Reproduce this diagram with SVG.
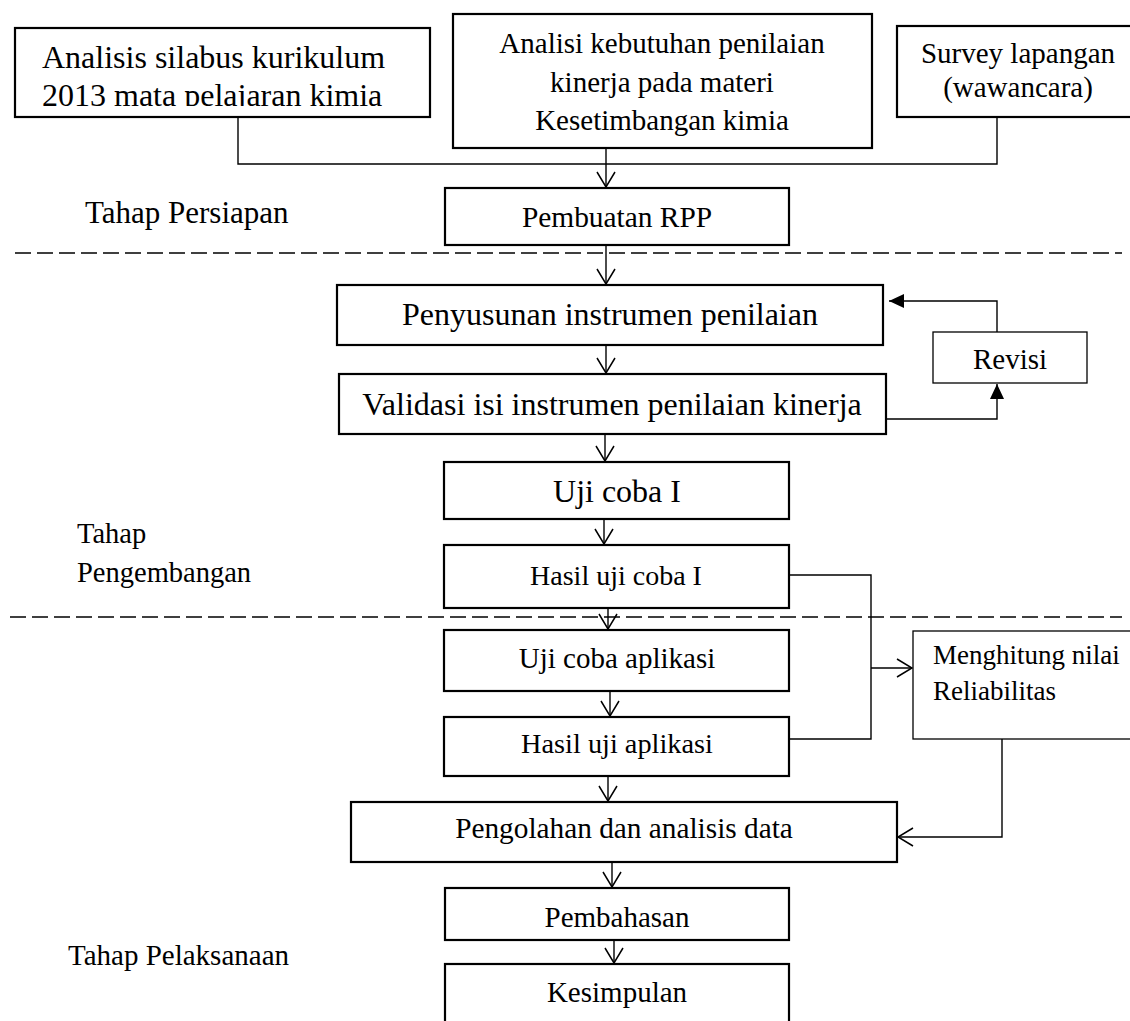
<svg xmlns="http://www.w3.org/2000/svg" width="1130" height="1021" viewBox="0 0 1130 1021">
<style>
text{font-family:"Liberation Serif","Times New Roman",serif;fill:#000;}
.b{fill:#fff;stroke:#000;stroke-width:2.2;}
.t{fill:#fff;stroke:#000;stroke-width:1.3;}
.c{fill:none;stroke:#000;stroke-width:1.4;}
.d{fill:none;stroke:#000;stroke-width:1.6;stroke-dasharray:16 6;}
.m{text-anchor:middle;}
</style>
<defs>
<marker id="open" viewBox="-1 -10 17 20" refX="15" refY="0" markerWidth="17" markerHeight="20" markerUnits="userSpaceOnUse" orient="auto">
<path d="M0,-9 L15,0 L0,9" fill="none" stroke="#000" stroke-width="1.5"/>
</marker>
<marker id="fill" viewBox="0 -8 15 16" refX="15" refY="0" markerWidth="15" markerHeight="16" markerUnits="userSpaceOnUse" orient="auto">
<path d="M0,-7 L15,0 L0,7 Z" fill="#000"/>
</marker>
<clipPath id="clip1"><rect x="15" y="28" width="415" height="78"/></clipPath>
</defs>

<g id="labels">
<text x="85" y="223" font-size="31">Tahap Persiapan</text>
<text x="77" y="543" font-size="28.5">Tahap</text>
<text x="77" y="582" font-size="28.5">Pengembangan</text>
<text x="68" y="965" font-size="29">Tahap Pelaksanaan</text>
</g>

<g id="separators">
<line class="d" x1="15" y1="253" x2="1122" y2="253"/>
<line class="d" x1="10" y1="617" x2="1122" y2="617"/>
</g>

<g id="connectors">
<polyline class="c" points="238,117 238,164 997,164 997,117"/>
<line class="c" x1="606" y1="148" x2="606" y2="187" marker-end="url(#open)"/>
<line class="c" x1="606" y1="245" x2="606" y2="284" marker-end="url(#open)"/>
<line class="c" x1="606" y1="345" x2="606" y2="373" marker-end="url(#open)"/>
<line class="c" x1="605" y1="434" x2="605" y2="461" marker-end="url(#open)"/>
<line class="c" x1="604" y1="519" x2="604" y2="544" marker-end="url(#open)"/>
<line class="c" x1="608" y1="608" x2="608" y2="629" marker-end="url(#open)"/>
<line class="c" x1="610" y1="691" x2="610" y2="716" marker-end="url(#open)"/>
<line class="c" x1="608" y1="776" x2="608" y2="801" marker-end="url(#open)"/>
<line class="c" x1="612" y1="862" x2="612" y2="887" marker-end="url(#open)"/>
<line class="c" x1="614" y1="940" x2="614" y2="963" marker-end="url(#open)"/>
<polyline class="c" points="886,419 997,419 997,384" marker-end="url(#fill)"/>
<polyline class="c" points="997,332 997,301 889,301" marker-end="url(#fill)"/>
<polyline class="c" points="789,575 871,575 871,739 789,739"/>
<line class="c" x1="871" y1="668" x2="912" y2="668" marker-end="url(#open)"/>
<polyline class="c" points="1002,739 1002,837 898,837" marker-end="url(#open)"/>
</g>

<g id="n-silabus">
<rect class="b" x="15" y="28" width="415" height="89"/>
<g clip-path="url(#clip1)">
<text x="42" y="68" font-size="32">Analisis silabus kurikulum</text>
<text x="42" y="106" font-size="32">2013 mata pelajaran kimia</text>
</g>
</g>

<g id="n-kebutuhan">
<rect class="b" x="453" y="14" width="419" height="134"/>
<text class="m" x="662" y="53" font-size="29">Analisi kebutuhan penilaian</text>
<text class="m" x="662" y="92" font-size="29">kinerja pada materi</text>
<text class="m" x="662" y="130" font-size="29">Kesetimbangan kimia</text>
</g>

<g id="n-survey">
<rect class="b" x="897" y="26" width="240" height="91"/>
<text class="m" x="1018" y="63" font-size="29">Survey lapangan</text>
<text class="m" x="1018" y="97" font-size="29">(wawancara)</text>
</g>

<g id="n-rpp">
<rect class="b" x="445" y="188" width="344" height="57"/>
<text class="m" x="617" y="227" font-size="29.4">Pembuatan RPP</text>
</g>

<g id="n-penyusunan">
<rect class="b" x="337" y="285" width="546" height="60"/>
<text class="m" x="610" y="325" font-size="32">Penyusunan instrumen penilaian</text>
</g>

<g id="n-validasi">
<rect class="b" x="339" y="374" width="547" height="60"/>
<text class="m" x="612" y="415" font-size="32">Validasi isi instrumen penilaian kinerja</text>
</g>

<g id="n-revisi">
<rect class="t" x="933" y="332" width="154" height="51"/>
<text class="m" x="1010" y="369" font-size="29">Revisi</text>
</g>

<g id="n-uji1">
<rect class="b" x="444" y="462" width="345" height="57"/>
<text class="m" x="617" y="502" font-size="32">Uji coba I</text>
</g>

<g id="n-hasil1">
<rect class="b" x="444" y="545" width="345" height="63"/>
<text class="m" x="616" y="585" font-size="28">Hasil uji coba I</text>
</g>

<g id="n-ujiaplikasi">
<rect class="b" x="444" y="630" width="345" height="61"/>
<text class="m" x="617" y="668" font-size="29">Uji coba aplikasi</text>
</g>

<g id="n-hasilaplikasi">
<rect class="b" x="444" y="717" width="345" height="59"/>
<text class="m" x="617" y="753" font-size="28.3">Hasil uji aplikasi</text>
</g>

<g id="n-reliabilitas">
<rect class="t" x="913" y="631" width="230" height="108"/>
<text x="933" y="664" font-size="27">Menghitung nilai</text>
<text x="933" y="700" font-size="27">Reliabilitas</text>
</g>

<g id="n-pengolahan">
<rect class="b" x="351" y="802" width="546" height="60"/>
<text class="m" x="624" y="838" font-size="29.3">Pengolahan dan analisis data</text>
</g>

<g id="n-pembahasan">
<rect class="b" x="445" y="888" width="344" height="52"/>
<text class="m" x="617" y="927" font-size="29">Pembahasan</text>
</g>

<g id="n-kesimpulan">
<rect class="b" x="445" y="964" width="344" height="70"/>
<text class="m" x="617" y="1002" font-size="29">Kesimpulan</text>
</g>
</svg>
